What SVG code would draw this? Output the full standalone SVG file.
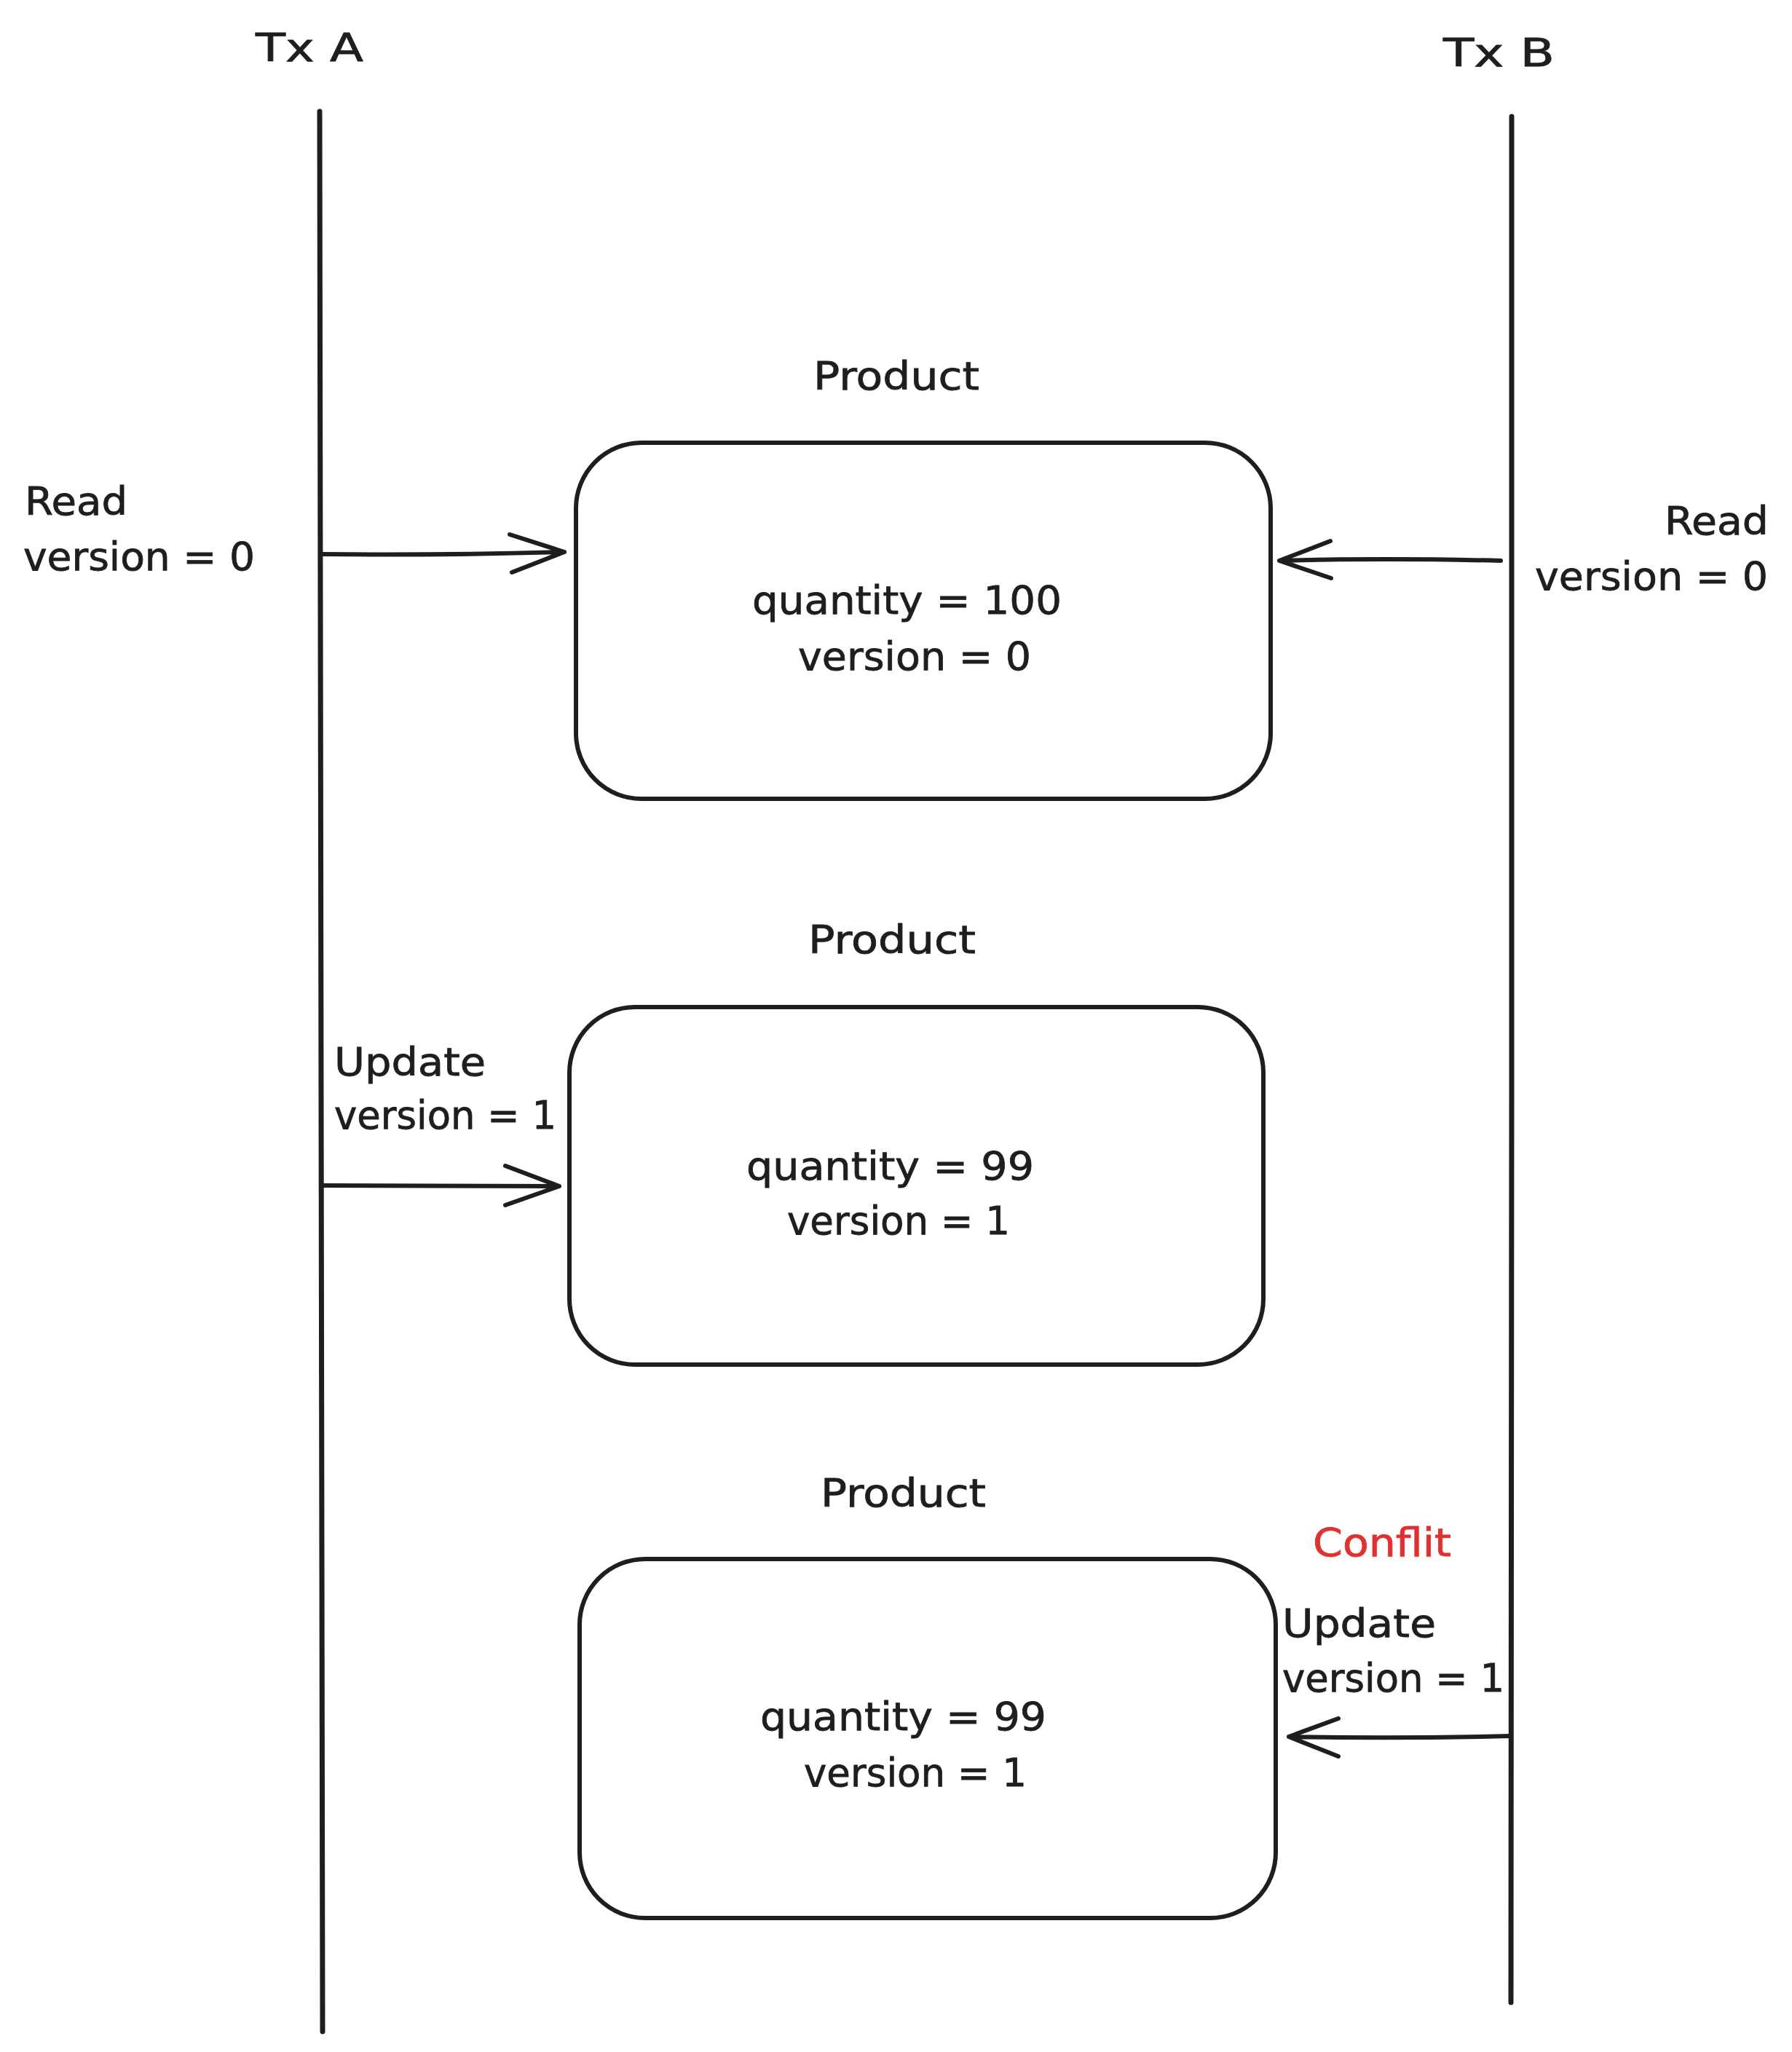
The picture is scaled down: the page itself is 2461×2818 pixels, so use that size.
<svg xmlns="http://www.w3.org/2000/svg" width="2461" height="2818" viewBox="0 0 2461 2818">
<style>
text{font-family:"DejaVu Sans","Liberation Sans",sans-serif;font-size:54px;fill:#1e1e1e;stroke:#1e1e1e;stroke-width:0.8}
text.red{fill:#e03131;stroke:#e03131}
.box{fill:#ffffff;stroke:#1e1e1e;stroke-width:6}
.life{stroke:#1e1e1e;stroke-width:7;fill:none;stroke-linecap:round}
.arr{stroke:#1e1e1e;stroke-width:6;fill:none;stroke-linecap:round;stroke-linejoin:round}
</style>
<rect width="2461" height="2818" fill="#ffffff"/>
<g id="txA">
<text x="351" y="84" textLength="148" lengthAdjust="spacingAndGlyphs">Tx A</text>
<path class="life" d="M439 153 L441 1500 L443 2790"/>
</g>
<g id="txB">
<text x="1982" y="91" textLength="153" lengthAdjust="spacingAndGlyphs">Tx B</text>
<path class="life" d="M2076 160 L2076 1500 L2075 2750"/>
</g>
<g id="product1">
<text x="1117" y="535" textLength="228" lengthAdjust="spacingAndGlyphs">Product</text>
<rect class="box" x="791" y="608" width="954" height="489" rx="90" ry="90"/>
<text x="1033" y="843" textLength="425" lengthAdjust="spacingAndGlyphs">quantity = 100</text>
<text x="1096" y="920" textLength="320" lengthAdjust="spacingAndGlyphs">version = 0</text>
</g>
<g id="product2">
<text x="1110" y="1309" textLength="230" lengthAdjust="spacingAndGlyphs">Product</text>
<rect class="box" x="782" y="1383" width="953" height="491" rx="90" ry="90"/>
<text x="1025" y="1620" textLength="395" lengthAdjust="spacingAndGlyphs">quantity = 99</text>
<text x="1081" y="1695" textLength="306" lengthAdjust="spacingAndGlyphs">version = 1</text>
</g>
<g id="product3">
<text x="1127" y="2069" textLength="227" lengthAdjust="spacingAndGlyphs">Product</text>
<rect class="box" x="796" y="2141" width="956" height="493" rx="90" ry="90"/>
<text x="1044" y="2376" textLength="393" lengthAdjust="spacingAndGlyphs">quantity = 99</text>
<text x="1104" y="2453" textLength="306" lengthAdjust="spacingAndGlyphs">version = 1</text>
</g>
<g id="labels">
<text x="34" y="707" textLength="141" lengthAdjust="spacingAndGlyphs">Read</text>
<text x="32" y="783" textLength="318" lengthAdjust="spacingAndGlyphs">version = 0</text>
<text x="2286" y="734" textLength="143" lengthAdjust="spacingAndGlyphs">Read</text>
<text x="2108" y="810" textLength="320" lengthAdjust="spacingAndGlyphs">version = 0</text>
<text x="459" y="1477" textLength="208" lengthAdjust="spacingAndGlyphs">Update</text>
<text x="459" y="1550" textLength="305" lengthAdjust="spacingAndGlyphs">version = 1</text>
<text class="red" x="1803" y="2137" textLength="190" lengthAdjust="spacingAndGlyphs">Conflit</text>
<text x="1761" y="2248" textLength="211" lengthAdjust="spacingAndGlyphs">Update</text>
<text x="1761" y="2323" textLength="305" lengthAdjust="spacingAndGlyphs">version = 1</text>
</g>
<g id="connectors">
<path class="arr" d="M442 761 Q600 763 775 758 M700 734 L775 758 L703 786"/>
<path class="arr" d="M2061 770 Q1900 766 1757 770 M1827 743 L1757 770 L1828 794"/>
<path class="arr" d="M444 1628 L768 1629 M694 1601 L768 1629 L694 1655"/>
<path class="arr" d="M2075 2384 Q1920 2388 1770 2385 M1838 2360 L1770 2385 L1838 2412"/>
</g>
</svg>
